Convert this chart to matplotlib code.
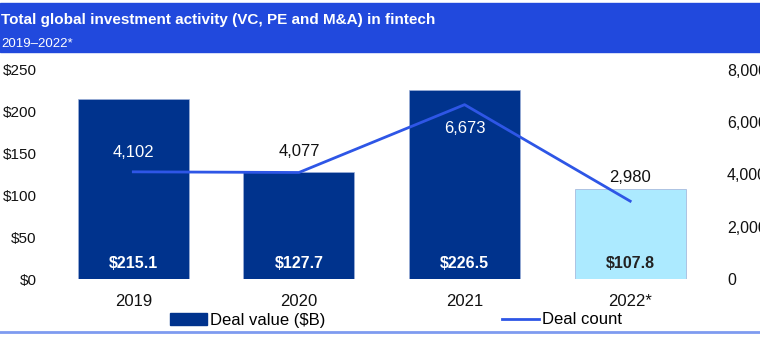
# total global investment activity in fintech, 2019-2022
import matplotlib
matplotlib.use('Agg')
import matplotlib.pyplot as plt
from matplotlib.patches import Rectangle
from matplotlib.lines import Line2D

plt.rcParams['font.family'] = ['Liberation Sans', 'DejaVu Sans']

years = ['2019', '2020', '2021', '2022*']
deal_value = [215.1, 127.7, 226.5, 107.8]
deal_count = [4102, 4077, 6673, 2980]
value_labels = ['$215.1', '$127.7', '$226.5', '$107.8']
count_labels = ['4,102', '4,077', '6,673', '2,980']
left_ticks = [0, 50, 100, 150, 200, 250]
right_ticks = [0, 2000, 4000, 6000, 8000]

navy = '#00338D'
light = '#ACEAFF'
line_blue = '#2E56E6'

W, H = 760, 349
fig = plt.figure(figsize=(W / 100, H / 100), dpi=100)

# header band
fig.patches.append(Rectangle((0, 297 / H), 1, 49 / H, transform=fig.transFigure,
                             color='#2149DD', zorder=0))
fig.text(1 / W, 329 / H, 'Total global investment activity (VC, PE and M&A) in fintech',
         color='white', fontsize=11, fontweight='bold', va='center')
fig.text(1 / W, 305 / H, '2019\u20132022*', color='white', fontsize=9.5, va='center')

# rule under the legend
fig.add_artist(Line2D([0, 1], [17 / H, 17 / H], transform=fig.transFigure,
                      color='#7E9BF0', lw=2))

ax = fig.add_axes([50.5 / W, 70 / H, 662.5 / W, 209 / H])
x = range(len(years))
colors = [navy, navy, navy, light]
ax.bar(x, deal_value, width=0.67, color=colors, edgecolor='#9DB0D8', linewidth=0.5, zorder=1)
ax.set_xlim(-0.5, 3.5)
ax.set_ylim(0, 250)
ax.set_yticks(left_ticks)
ax.set_yticklabels(['$' + str(t) for t in left_ticks])
ax.set_xticks(list(x))
ax.set_xticklabels(years)
for s in ax.spines.values():
    s.set_visible(False)
ax.tick_params(length=0, labelsize=12, colors='#111111')
ax.tick_params(axis='x', pad=11)
ax.tick_params(axis='y', pad=10, labelsize=11)

for i, v in enumerate(deal_value):
    ax.annotate(value_labels[i], (i, 0), xytext=(0, 11.5), textcoords='offset points',
                ha='center', va='center', fontsize=11.5, fontweight='bold',
                color='#222222' if i == 3 else 'white', zorder=5)

ax2 = ax.twinx()
ax2.plot(x, deal_count, color=line_blue, lw=2, zorder=3)
ax2.set_ylim(0, 8000)
ax2.set_yticks(right_ticks)
ax2.set_yticklabels(['{:,}'.format(t) for t in right_ticks])
for s in ax2.spines.values():
    s.set_visible(False)
ax2.tick_params(length=0, labelsize=11.5, colors='#111111', pad=10)

offsets = [14, 15, -17, 17]
label_cols = ['white', '#111111', 'white', '#111111']
for i, c in enumerate(deal_count):
    ax2.annotate(count_labels[i], (i, c), xytext=(0, offsets[i]), textcoords='offset points',
                 ha='center', va='center', fontsize=12, color=label_cols[i], zorder=5)

handles = [Rectangle((0, 0), 1, 1, color=navy), Line2D([], [], color=line_blue, lw=2)]
leg = fig.legend(handles, ['Deal value ($B)', 'Deal count'], loc='center left',
                 bbox_to_anchor=(170 / W, 29 / H), ncol=2, frameon=False, fontsize=12,
                 handlelength=2.2, handleheight=0.7, handletextpad=0.2, columnspacing=10.6,
                 borderaxespad=0, borderpad=0)

fig.savefig('out.png', dpi=100)
